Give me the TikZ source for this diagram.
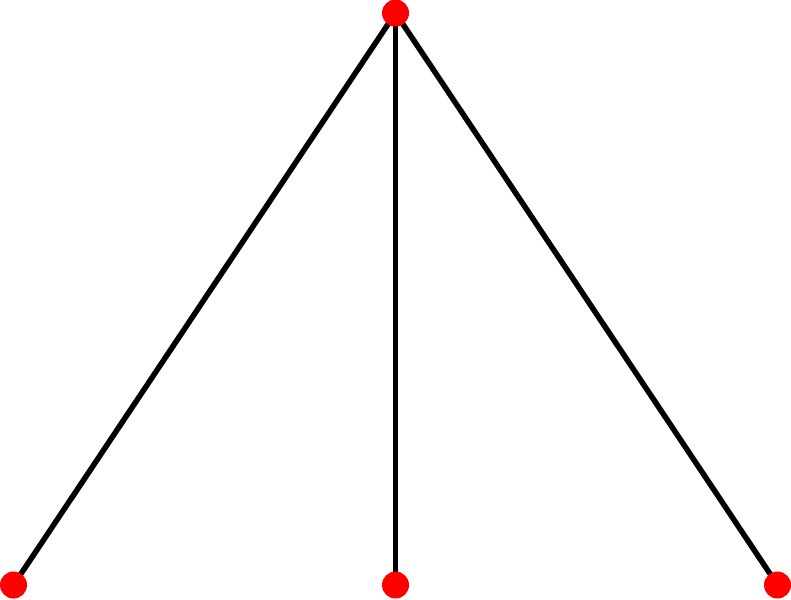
\documentclass[tikz,border=0pt]{standalone}
\pgfdeclarelayer{background}
\pgfsetlayers{background,main}
\begin{document}
\begin{tikzpicture}[inner sep=0pt]
        \useasboundingbox (0,0) rectangle (7.91,5.99);
        \tikzset{vertex/.style={circle, fill=red, minimum size=0.27cm}}

        \node[vertex] (T) at (3.955,5.86) {};
        \node[vertex] (L) at (0.135,0.14) {};
        \node[vertex] (M) at (3.955,0.14) {};
        \node[vertex] (R) at (7.775,0.14) {};

        \begin{pgfonlayer}{background}
        \draw[line width=0.055cm] (T.center) -- (L.center);
        \draw[line width=0.055cm] (T.center) -- (M.center);
        \draw[line width=0.055cm] (T.center) -- (R.center);
        \end{pgfonlayer}
    \end{tikzpicture}
\end{document}
